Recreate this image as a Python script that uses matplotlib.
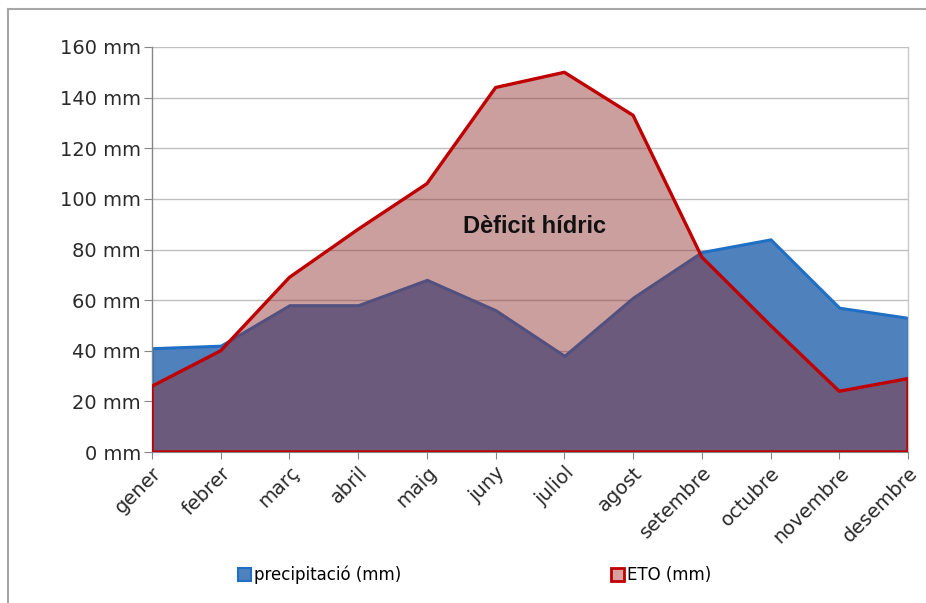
import matplotlib
matplotlib.use("Agg")
import matplotlib.pyplot as plt
from matplotlib.patches import Patch
from matplotlib.lines import Line2D
import numpy as np

months = ["gener", "febrer", "març", "abril", "maig", "juny", "juliol",
          "agost", "setembre", "octubre", "novembre", "desembre"]
precip = [41, 42, 58, 58, 68, 56, 38, 61, 79, 84, 57, 53]
eto = [26, 40, 69, 88, 106, 144, 150, 133, 77, 50, 24, 29]
yticks = [0, 20, 40, 60, 80, 100, 120, 140, 160]
ytick_labels = [f"{v} mm" for v in yticks]

plt.rcParams['font.family'] = ['DejaVu Sans']

fig = plt.figure(figsize=(9.26, 6.03), dpi=100)
ax = fig.add_axes([152/926, 1-452/603, (908-152)/926, (452-47)/603])

x = np.arange(len(months))

ax.fill_between(x, 0, precip, facecolor="#4f81bd", edgecolor="#1f6fc4",
                linewidth=2.2, zorder=2, joinstyle="miter")
ax.fill_between(x, 0, eto, facecolor=(0.56, 0.17, 0.17, 0.45), edgecolor="none",
                zorder=3)
ax.fill_between(x, 0, eto, facecolor="none", edgecolor="#c00000",
                linewidth=2.4, zorder=4)

ax.set_xlim(0, len(months) - 1)
ax.set_ylim(0, 160)
ax.set_yticks(yticks)
ax.set_yticklabels(ytick_labels, fontsize=14, color="#2a2a2a")
ax.set_xticks(x)
ax.set_xticklabels(months, rotation=45, ha="right", rotation_mode="anchor",
                   fontsize=14, color="#2a2a2a")
ax.tick_params(axis="y", length=6, color="#868686", pad=2)
ax.tick_params(axis="x", length=5, color="#868686", pad=3)
ax.yaxis.grid(True, color="#bfbfbf", linewidth=1.0, zorder=1)
ax.set_axisbelow(True)

ax.spines["left"].set_color("#868686")
ax.spines["left"].set_linewidth(1.0)
ax.spines["right"].set_color("#c8c8c8")
ax.spines["right"].set_linewidth(1.0)
ax.spines["top"].set_visible(False)
ax.spines["bottom"].set_color("#868686")

ax.text(5.56, 89, "Dèficit hídric", fontsize=17, fontweight="bold",
        family=["Liberation Sans", "DejaVu Sans"], ha="center", va="center",
        color="#111111", zorder=5)

handles = [Patch(facecolor="#4f81bd", edgecolor="#1f6fc4", linewidth=1.5),
           Patch(facecolor="#d9a0a0", edgecolor="#c00000", linewidth=2.0)]
fig.legend(handles, ["precipitació (mm)", "ETO (mm)"], loc="center",
           bbox_to_anchor=(475/926, 1-575/603), ncol=2, frameon=False,
           fontsize=12, handlelength=0.75, handleheight=0.75,
           handletextpad=0.2, columnspacing=12.6)

fig.add_artist(Line2D([8/926, 8/926], [0, 1-9/603], transform=fig.transFigure,
                      color="#a6a6a6", linewidth=1.5))
fig.add_artist(Line2D([8/926, 1], [1-9/603, 1-9/603], transform=fig.transFigure,
                      color="#a6a6a6", linewidth=1.5))

fig.savefig("out.png", dpi=100)
